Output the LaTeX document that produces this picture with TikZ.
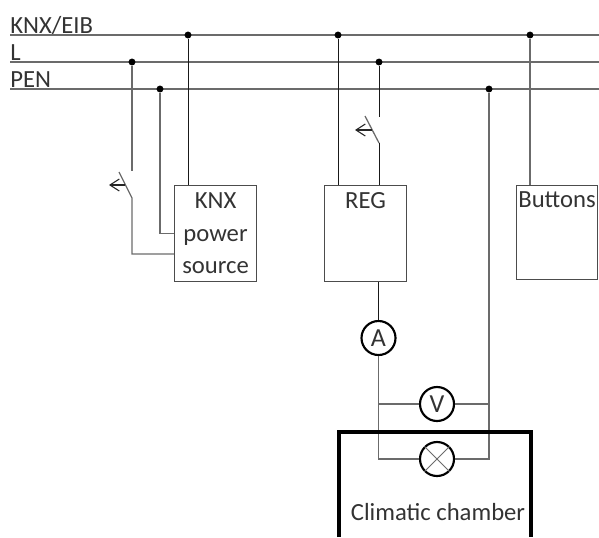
\documentclass[tikz,border=0pt]{standalone}
\usepackage{fontspec}
\setmainfont{Carlito}
\usetikzlibrary{arrows.meta}
\tikzset{
  wire/.style={draw=black!58, line width=.95pt},
  darkwire/.style={draw=black!90, line width=.75pt},
  dot/.style={circle, fill=black, inner sep=0pt, minimum size=5.2pt},
  box/.style={draw=black!70, line width=.8pt, anchor=north west, inner sep=0pt,
    text=black!80, font=\fontsize{18.5}{24.4}\selectfont},
  meter/.style={circle, draw=black, line width=1.6pt, fill=white, inner sep=0pt,
    minimum size=25.5pt, text=black!80, font=\fontsize{19.5}{20}\selectfont},
  lab/.style={text=black!80, inner sep=0pt, font=\fontsize{18.5}{20}\selectfont}
}
\begin{document}
\begin{tikzpicture}[x=.75pt, y=-.75pt]
        \useasboundingbox (0,0) rectangle (599,537);

        \coordinate (knxl) at (10,35);
        \coordinate (knxr) at (599,35);
        \coordinate (ll) at (10,62);
        \coordinate (lr) at (599,62);
        \coordinate (penl) at (10,89);
        \coordinate (penr) at (599,89);
        \draw [wire] (knxl) -- (knxr);
        \draw [wire] (ll) -- (lr);
        \draw [wire] (penl) -- (penr);

        \node [lab, anchor=base west] (knxlab) at (10,33) {KNX/EIB};
        \node [lab, anchor=base west] (llab) at (10,60) {L};
        \node [lab, anchor=base west] (penlab) at (10,87) {PEN};

        \node [dot] (d1) at (188,35) {};
        \node [dot] (d2) at (132,62) {};
        \node [dot] (d3) at (160,89) {};
        \node [dot] (d4) at (338,35) {};
        \node [dot] (d5) at (379,62) {};
        \node [dot] (d6) at (489,89) {};
        \node [dot] (d7) at (530,35) {};

        \node [box, align=center, minimum width=61.5pt, minimum height=72pt] (power) at (174,185)
          {KNX\\power\\source};
        \node [box, minimum width=61.5pt, text height=17pt, text depth=55pt, text width=61.5pt, align=center] (reg) at (324,185) {REG};
        \node [box, minimum width=60.75pt, text height=16.5pt, text depth=54pt, text width=60.75pt, align=center] (buttons) at (516,185) {Buttons};

        \draw [darkwire] (d1) -- (d1 |- power.north);
        \draw [wire] (d3) |- (power.west);
        \coordinate (s1top) at (132,171);
        \coordinate (s1low) at (132,198);
        \coordinate (s1end) at (119,172);
        \coordinate (s1mid) at (125,185);
        \coordinate (s1tip) at (109,185);
        \coordinate (s1in) at (174,254);
        \draw [wire] (d2) -- (s1top);
        \draw [wire] (s1end) -- (s1low) |- (s1in);
        \draw [draw=black!85, line width=.8pt, -{Straight Barb[length=7pt,width=9pt]}] (s1mid) -- (s1tip);

        \draw [darkwire] (d4) -- (d4 |- reg.north);
        \coordinate (s2top) at (379,117);
        \coordinate (s2low) at (379,143);
        \coordinate (s2end) at (365,116);
        \coordinate (s2mid) at (372,130);
        \coordinate (s2tip) at (355,130);
        \draw [darkwire] (d5) -- (s2top);
        \draw [wire] (s2end) -- (s2low);
        \draw [darkwire] (s2low) -- (s2low |- reg.north);
        \draw [draw=black!85, line width=.8pt, -{Straight Barb[length=7pt,width=9pt]}] (s2mid) -- (s2tip);

        \draw [wire] (d7) -- (d7 |- buttons.north);

        \node [meter] (amp) at (378.5,338) {A};
        \node [meter] (volt) at (437,404) {V};
        \node [meter] (lamp) at (437,459) {};
        \draw [wire, line width=.6pt] (lamp.north west) -- (lamp.south east);
        \draw [wire, line width=.6pt] (lamp.north east) -- (lamp.south west);

        \draw [darkwire] (amp |- reg.south) -- (amp);
        \draw [wire] (amp) |- (lamp);
        \draw [wire] (d6) |- (lamp);
        \draw [wire] (amp |- volt) -- (volt);
        \draw [wire] (volt) -- (d6 |- volt);

        \coordinate (cha) at (339,537);
        \coordinate (chb) at (339,432);
        \coordinate (chc) at (531,432);
        \coordinate (chd) at (531,537);
        \draw [line width=2.4pt] (cha) -- (chb) -- (chc) -- (chd);
        \node [lab] (chamber) at (438,512) {Climatic chamber};
      \end{tikzpicture}
\end{document}
